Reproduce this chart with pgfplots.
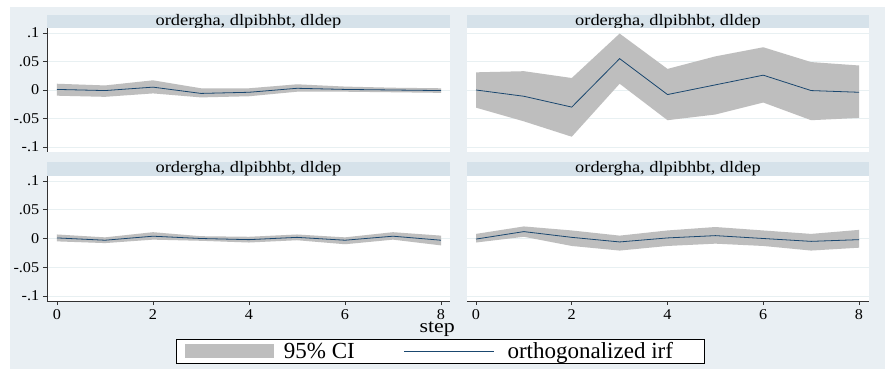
\documentclass[border=0pt]{standalone}
\usepackage{fontspec}
\setmainfont{Liberation Serif}
\usepackage{pgfplots}
\pgfplotsset{compat=1.18}

\definecolor{bgc}{RGB}{233,239,243}
\definecolor{stripc}{RGB}{214,226,234}
\definecolor{gridc}{RGB}{232,240,242}
\definecolor{cigray}{RGB}{190,190,190}
\definecolor{irfc}{RGB}{26,71,111}
\definecolor{axisc}{RGB}{50,50,50}

\pgfplotsset{
  panel/.style={
    scale only axis,
    anchor=south west,
    ymin=-0.1088, ymax=0.1088,
    axis background/.style={fill=white},
    ytick={-0.1,-0.05,0,0.05,0.1},
    yticklabels={-.1,-.05,0,.05,.1},
    xtick={0,2,4,6,8},
    xticklabels={0,2,4,6,8},
    ymajorgrids,
    grid style={gridc, line width=0.6pt},
    tick align=outside,
    major tick length=4pt,
    tick style={axisc, line width=0.6pt},
    axis x line*=bottom,
    axis y line*=left,
    axis line style={-, axisc, line width=0.6pt},
    tick label style={font=\fontsize{15}{17}\selectfont, xscale=1.08},
    xticklabel style={inner sep=0.5pt, yshift=-3.5pt},
    clip=false,
  },
  leftp/.style={width=403pt, xmin=-0.2083, xmax=8.1875},
  rightp/.style={width=402pt, xmin=-0.188, xmax=8.209,
    yticklabels={}, ytick style={draw=none}, y axis line style={draw=none}},
  topp/.style={height=124pt,
    xticklabels={}, xtick style={draw=none}, x axis line style={draw=none}},
  botp/.style={height=125pt},
}

\begin{document}
\begin{tikzpicture}
\useasboundingbox (0pt,0pt) rectangle (885pt,369pt);
\fill[white] (0pt,0pt) rectangle (885pt,369pt);
\fill[bgc] (10pt,0pt) rectangle (885pt,362pt);
\fill[stripc] (47pt,340.5pt) rectangle (450pt,354pt);
\fill[stripc] (467pt,340.5pt) rectangle (869pt,354pt);
\fill[stripc] (47pt,193pt) rectangle (450pt,207pt);
\fill[stripc] (467pt,193pt) rectangle (869pt,207pt);
\node[font=\fontsize{16}{18}\selectfont, xscale=1.15, inner sep=0pt] at (248.5pt,347.5pt) {ordergha, dlpibhbt, dldep};
\node[font=\fontsize{16}{18}\selectfont, xscale=1.15, inner sep=0pt] at (668pt,347.5pt) {ordergha, dlpibhbt, dldep};
\node[font=\fontsize{16}{18}\selectfont, xscale=1.15, inner sep=0pt] at (248.5pt,200pt) {ordergha, dlpibhbt, dldep};
\node[font=\fontsize{16}{18}\selectfont, xscale=1.15, inner sep=0pt] at (668pt,200pt) {ordergha, dlpibhbt, dldep};

% top left
\begin{axis}[panel, leftp, topp, at={(47pt,217pt)}]
% 95% CI band: upper bound for steps 0..8, then lower bound for steps 8..0
\addplot[fill=cigray, draw=none, forget plot] coordinates {
 (0,0.011) (1,0.008) (2,0.017) (3,0.003) (4,0.003) (5,0.010) (6,0.006) (7,0.004) (8,0.003)
 (8,-0.005) (7,-0.004) (6,-0.003) (5,-0.003) (4,-0.011) (3,-0.013) (2,-0.006) (1,-0.012) (0,-0.010)
} -- cycle;
\addplot[irfc, line width=0.8pt, forget plot] coordinates {
 (0,0.001) (1,-0.001) (2,0.005) (3,-0.006) (4,-0.004) (5,0.003) (6,0.001) (7,0.000) (8,-0.001)
};
\end{axis}

% top right
\begin{axis}[panel, rightp, topp, at={(467pt,217pt)}]
\addplot[fill=cigray, draw=none, forget plot] coordinates {
 (0,0.031) (1,0.033) (2,0.021) (3,0.099) (4,0.037) (5,0.059) (6,0.075) (7,0.049) (8,0.043)
 (8,-0.049) (7,-0.053) (6,-0.022) (5,-0.043) (4,-0.053) (3,0.011) (2,-0.082) (1,-0.055) (0,-0.031)
} -- cycle;
\addplot[irfc, line width=0.8pt, forget plot] coordinates {
 (0,0.000) (1,-0.011) (2,-0.030) (3,0.055) (4,-0.008) (5,0.009) (6,0.026) (7,-0.001) (8,-0.004)
};
\end{axis}

% bottom left
\begin{axis}[panel, leftp, botp, at={(47pt,68pt)},
  xlabel={step},
  xlabel style={at={(axis description cs:1.0124,-0.168)}, anchor=north east, inner sep=0pt,
    font=\fontsize{19}{21}\selectfont, xscale=1.15},
  legend columns=2,
  legend style={at={(axis description cs:0.32,-0.304)}, anchor=north west,
    draw=black, line width=0.6pt, fill=white,
    inner xsep=9pt, inner ysep=3pt,
    font=\fontsize{23}{25}\selectfont,
    nodes={inner sep=0pt, anchor=west},
    /tikz/column 1/.style={column sep=10pt},
    /tikz/column 2/.style={column sep=49pt},
    /tikz/column 3/.style={column sep=13pt}},
]
\addplot[fill=cigray, draw=none, forget plot] coordinates {
 (0,0.007) (1,0.002) (2,0.011) (3,0.004) (4,0.003) (5,0.007) (6,0.002) (7,0.011) (8,0.005)
 (8,-0.012) (7,-0.002) (6,-0.010) (5,-0.003) (4,-0.007) (3,-0.004) (2,-0.002) (1,-0.008) (0,-0.005)
} -- cycle;
\addplot[irfc, line width=0.8pt, forget plot] coordinates {
 (0,0.001) (1,-0.003) (2,0.004) (3,0.000) (4,-0.002) (5,0.002) (6,-0.003) (7,0.004) (8,-0.003)
};
\addlegendimage{legend image code/.code={\fill[cigray] (0pt,-6.5pt) rectangle (88pt,6.5pt);}}
\addlegendentry{95\% CI}
\addlegendimage{legend image code/.code={\draw[irfc, line width=0.8pt] (0pt,0pt) -- (90pt,0pt);}}
\addlegendentry{orthogonalized irf\hspace*{22pt}}
\end{axis}

% bottom right
\begin{axis}[panel, rightp, botp, at={(467pt,68pt)}]
\addplot[fill=cigray, draw=none, forget plot] coordinates {
 (0,0.008) (1,0.021) (2,0.014) (3,0.005) (4,0.014) (5,0.020) (6,0.014) (7,0.008) (8,0.015)
 (8,-0.016) (7,-0.021) (6,-0.013) (5,-0.009) (4,-0.013) (3,-0.021) (2,-0.013) (1,0.003) (0,-0.007)
} -- cycle;
\addplot[irfc, line width=0.8pt, forget plot] coordinates {
 (0,-0.001) (1,0.012) (2,0.002) (3,-0.006) (4,0.001) (5,0.005) (6,0.000) (7,-0.005) (8,-0.002)
};
\end{axis}
\end{tikzpicture}
\end{document}
